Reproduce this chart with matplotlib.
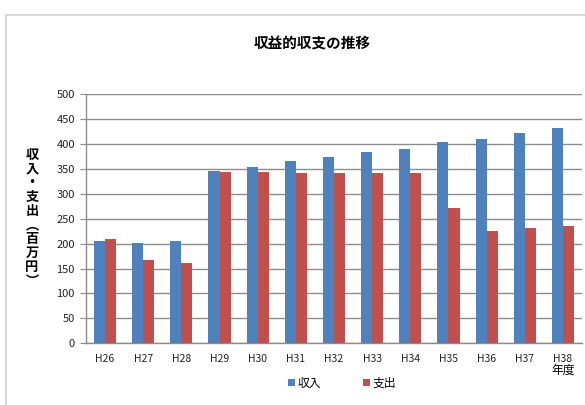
import matplotlib
matplotlib.use("Agg")
import matplotlib.pyplot as plt
import numpy as np
from matplotlib.patches import Rectangle

plt.rcParams['font.family'] = ['Noto Sans CJK JP', 'DejaVu Sans']

categories = ["H26", "H27", "H28", "H29", "H30", "H31", "H32", "H33", "H34", "H35", "H36", "H37", "H38"]
income = [206, 202, 206, 345, 353, 365, 373, 383, 390, 403, 410, 422, 432]
expense = [210, 168, 162, 343, 343, 341, 341, 341, 341, 271, 226, 232, 236]
yticks = [0, 50, 100, 150, 200, 250, 300, 350, 400, 450, 500]

blue = "#4F81BD"
red = "#C0504D"
grid_c = "#8c8c8c"

fig = plt.figure(figsize=(5.85, 4.05), dpi=100)
fig.patch.set_facecolor("white")
# outer chart frame
fig.add_artist(Rectangle((6/585, -0.1), 1.2, 1 - 15/405 + 0.1, transform=fig.transFigure,
                         fill=False, edgecolor="#d0d0d0", linewidth=1.2))

ax = fig.add_axes([86/585, 1 - 343.3/405, 496/585, (343.3 - 94)/405])
x = np.arange(len(categories))
w = 0.29
ax.bar(x - w/2, income, width=w, color=blue, label="収入", zorder=3)
ax.bar(x + w/2, expense, width=w, color=red, label="支出", zorder=3)

ax.set_xlim(-0.5, len(categories) - 0.5)
ax.set_ylim(0, 500)
ax.set_yticks(yticks)
ax.set_xticks(x)
ax.set_xticklabels(categories, fontsize=7.5, color="#222222")
ax.tick_params(axis='y', labelsize=8, colors="#222222", length=4, color=grid_c, pad=4)
ax.tick_params(axis='x', length=0, pad=8)
ax.yaxis.grid(True, color=grid_c, linewidth=1, zorder=0)
ax.set_axisbelow(True)
for s in ["top", "right"]:
    ax.spines[s].set_visible(False)
for s in ["left", "bottom"]:
    ax.spines[s].set_color(grid_c)
    ax.spines[s].set_linewidth(1)

fig.text(312/585, 1 - 43/405, "収益的収支の推移", ha="center", va="center", fontsize=10.5, fontweight="bold")

ylabel_chars = ["収", "入", "・", "支", "出", "︵", "百", "万", "円", "︶"]
fig.text(32/585, 1 - 218/405, "\n".join(ylabel_chars), ha="center", va="center",
         fontsize=9.5, fontweight="bold", linespacing=1.0)

fig.text(563/585, 1 - 370/405, "年度", ha="center", va="center", fontsize=8.5)

leg = fig.legend(loc="center", bbox_to_anchor=(342/585, 1 - 383/405), ncol=2, frameon=False,
                 fontsize=8.5, handlelength=0.6, handleheight=0.6, handletextpad=0.2,
                 columnspacing=3.5)

fig.savefig("out.png", dpi=100)
